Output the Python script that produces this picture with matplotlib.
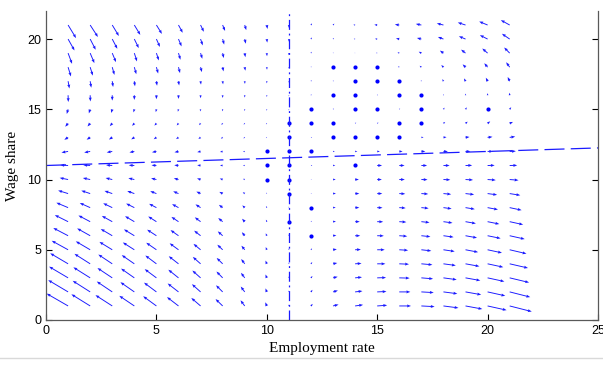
import numpy as np
import matplotlib
matplotlib.use("Agg")
import matplotlib.pyplot as plt
from matplotlib.lines import Line2D

plt.rcParams['font.family'] = ['Liberation Sans', 'DejaVu Sans']

# grid of the phase portrait
x_grid = list(range(1, 22))
y_grid = list(range(1, 22))

# vector components, one row per y (bottom row first)
U = [
    [-0.97,-0.85,-0.76,-0.68,-0.60,-0.52,-0.42,-0.32,-0.19,-0.07, 0.00, 0.08,0.25,0.36,0.45,0.53,0.60,0.68,0.76,0.86,1.00],
    [-0.90,-0.79,-0.70,-0.63,-0.56,-0.49,-0.39,-0.30,-0.18,-0.06, 0.00, 0.07,0.22,0.33,0.42,0.50,0.56,0.63,0.71,0.80,0.93],
    [-0.86,-0.76,-0.67,-0.60,-0.53,-0.46,-0.37,-0.28,-0.17,-0.06, 0.00, 0.07,0.21,0.31,0.40,0.47,0.53,0.60,0.67,0.76,0.88],
    [-0.81,-0.71,-0.63,-0.57,-0.50,-0.44,-0.35,-0.27,-0.16,-0.06, 0.00, 0.06,0.19,0.29,0.37,0.44,0.50,0.56,0.63,0.71,0.83],
    [-0.74,-0.65,-0.58,-0.52,-0.46,-0.40,-0.32,-0.24,-0.15,-0.05, 0.00, 0.05,0.17,0.26,0.34,0.40,0.45,0.51,0.57,0.65,0.76],
    [-0.67,-0.59,-0.52,-0.47,-0.42,-0.36,-0.29,-0.22,-0.13,-0.05, 0.00, 0.00,0.15,0.23,0.30,0.36,0.41,0.46,0.52,0.59,0.68],
    [-0.60,-0.53,-0.47,-0.42,-0.37,-0.32,-0.26,-0.20,-0.12,-0.04, 0.00, 0.04,0.13,0.21,0.27,0.32,0.37,0.41,0.47,0.53,0.61],
    [-0.53,-0.47,-0.41,-0.37,-0.33,-0.29,-0.23,-0.17,-0.11,-0.04, 0.00, 0.00,0.12,0.19,0.24,0.29,0.33,0.37,0.42,0.47,0.54],
    [-0.45,-0.40,-0.35,-0.32,-0.28,-0.24,-0.19,-0.15,-0.09,-0.03, 0.00, 0.03,0.13,0.19,0.23,0.27,0.31,0.35,0.39,0.43,0.48],
    [-0.38,-0.33,-0.30,-0.27,-0.24,-0.21,-0.16,-0.13,-0.08, 0.00, 0.00, 0.03,0.12,0.17,0.21,0.25,0.28,0.31,0.34,0.37,0.40],
    [-0.35,-0.31,-0.28,-0.25,-0.22,-0.19,-0.15,-0.12,-0.08, 0.00, 0.00, 0.06,0.10,0.00,0.22,0.24,0.26,0.28,0.30,0.32,0.34],
    [-0.30,-0.27,-0.25,-0.22,-0.20,-0.18,-0.15,-0.12,-0.08, 0.00, 0.00, 0.00,0.08,0.10,0.12,0.15,0.18,0.20,0.22,0.25,0.28],
    [-0.17,-0.16,-0.15,-0.14,-0.12,-0.11,-0.10,-0.08,-0.06,-0.04, 0.00, 0.05,0.00,0.00,0.00,0.00,0.10,0.14,0.18,0.22,0.25],
    [-0.13,-0.12,-0.11,-0.10,-0.09,-0.08,-0.07,-0.06,-0.05,-0.04, 0.00, 0.00,0.00,0.05,0.06,0.00,0.00,0.08,0.10,0.12,0.15],
    [-0.06,-0.06,-0.05,-0.04,-0.03,-0.03,-0.02,-0.02,-0.01,-0.01, 0.00, 0.00,0.04,0.00,0.00,0.04,0.00,0.05,0.06,0.00,0.07],
    [ 0.01, 0.01, 0.00, 0.00, 0.00, 0.00, 0.00, 0.00, 0.00, 0.00, 0.00, 0.02,0.00,0.00,0.03,0.00,0.00,0.02,0.01,0.00,-0.01],
    [ 0.06, 0.05, 0.04, 0.03, 0.03, 0.03, 0.02, 0.02, 0.01, 0.00, 0.00, 0.03,0.03,0.00,0.00,0.00,-0.02,-0.05,-0.07,-0.08,-0.09],
    [ 0.13, 0.12, 0.10, 0.09, 0.08, 0.07, 0.06, 0.04, 0.03, 0.01, 0.00, 0.02,0.00,0.00,0.00,-0.06,-0.08,-0.10,-0.13,-0.15,-0.16],
    [ 0.18, 0.19, 0.17, 0.12, 0.11, 0.09, 0.08, 0.05, 0.03, 0.01, 0.00, 0.03,0.02,-0.02,-0.05,-0.08,-0.12,-0.16,-0.20,-0.24,-0.25],
    [ 0.29, 0.25, 0.23, 0.20, 0.16, 0.14, 0.10, 0.07, 0.05, 0.02, 0.00, 0.04,0.04,-0.06,-0.10,-0.15,-0.20,-0.25,-0.30,-0.35,-0.35],
    [ 0.36, 0.35, 0.30, 0.27, 0.25, 0.19, 0.15, 0.11, 0.07, 0.03, 0.00, 0.05,0.06,-0.08,-0.13,-0.20,-0.25,-0.30,-0.35,-0.38,-0.40],
]
V = [
    [ 0.88, 0.83, 0.77, 0.72, 0.69, 0.63, 0.57, 0.49, 0.40, 0.26, 0.10, 0.15,0.10,0.08,0.05,0.00,-0.05,-0.14,-0.22,-0.30,-0.40],
    [ 0.84, 0.79, 0.74, 0.69, 0.66, 0.60, 0.55, 0.47, 0.38, 0.25, 0.10, 0.15,0.10,0.06,0.03,0.00,-0.05,-0.13,-0.20,-0.28,-0.37],
    [ 0.80, 0.75, 0.70, 0.66, 0.62, 0.58, 0.52, 0.45, 0.36, 0.24, 0.10, 0.13,0.08,0.05,0.02,-0.02,-0.07,-0.13,-0.19,-0.26,-0.33],
    [ 0.75, 0.71, 0.66, 0.62, 0.59, 0.54, 0.49, 0.42, 0.34, 0.23, 0.10, 0.12,0.06,0.03,0.00,-0.03,-0.07,-0.12,-0.18,-0.24,-0.30],
    [ 0.64, 0.60, 0.56, 0.52, 0.50, 0.46, 0.42, 0.36, 0.29, 0.19, 0.10, 0.10,0.04,0.02,0.00,-0.04,-0.08,-0.12,-0.17,-0.22,-0.28],
    [ 0.55, 0.52, 0.48, 0.45, 0.43, 0.40, 0.36, 0.31, 0.25, 0.17, 0.10, 0.00,0.03,0.00,-0.01,-0.04,-0.07,-0.10,-0.15,-0.19,-0.24],
    [ 0.47, 0.44, 0.41, 0.39, 0.37, 0.34, 0.31, 0.26, 0.21, 0.14, 0.00, 0.06,0.02,0.00,-0.01,-0.03,-0.06,-0.09,-0.13,-0.17,-0.21],
    [ 0.35, 0.33, 0.31, 0.29, 0.27, 0.25, 0.23, 0.20, 0.16, 0.11, 0.08, 0.00,0.01,0.00,-0.01,-0.03,-0.05,-0.08,-0.11,-0.14,-0.18],
    [ 0.22, 0.21, 0.19, 0.18, 0.17, 0.16, 0.14, 0.12, 0.10, 0.07, 0.00, 0.04,0.01,0.00,0.00,-0.02,-0.03,-0.05,-0.07,-0.09,-0.12],
    [ 0.12, 0.11, 0.11, 0.10, 0.09, 0.09, 0.08, 0.07, 0.05, 0.00, 0.00, 0.03,0.01,0.00,0.00,0.00,-0.01,-0.02,-0.03,-0.04,-0.05],
    [ 0.03, 0.03, 0.03, 0.02, 0.02, 0.02, 0.02, 0.01, 0.01, 0.00, 0.00, 0.01,0.01,0.00,0.00,0.00,0.00,0.00,0.01,0.01,0.01],
    [-0.08,-0.08,-0.07,-0.07,-0.06,-0.06,-0.05,-0.04,-0.03, 0.00, 0.00, 0.00,0.00,0.00,0.00,0.00,0.00,0.00,0.01,0.01,0.02],
    [-0.17,-0.16,-0.15,-0.14,-0.13,-0.12,-0.11,-0.09,-0.07,-0.05, 0.00, 0.02,0.00,0.00,0.00,0.00,0.01,0.02,0.03,0.04,0.06],
    [-0.24,-0.22,-0.20,-0.18,-0.16,-0.15,-0.13,-0.11,-0.09,-0.07, 0.00, 0.00,0.00,0.05,0.05,0.00,0.00,0.10,0.12,0.14,0.10],
    [-0.33,-0.29,-0.26,-0.22,-0.20,-0.17,-0.15,-0.14,-0.12,-0.10,-0.08, 0.00,0.06,0.00,0.00,0.06,0.00,0.12,0.14,0.00,0.15],
    [-0.48,-0.44,-0.38,-0.33,-0.28,-0.26,-0.21,-0.19,-0.16,-0.12,-0.08, 0.08,0.00,0.00,0.06,0.00,0.00,0.08,0.12,0.15,0.18],
    [-0.52,-0.46,-0.41,-0.36,-0.32,-0.30,-0.24,-0.22,-0.19,-0.15,-0.10, 0.08,0.06,0.00,0.00,0.00,0.08,0.15,0.20,0.25,0.30],
    [-0.66,-0.60,-0.55,-0.50,-0.45,-0.42,-0.35,-0.30,-0.25,-0.18,-0.10, 0.06,0.00,0.00,0.00,0.06,0.10,0.15,0.20,0.28,0.35],
    [-0.76,-0.71,-0.64,-0.59,-0.52,-0.47,-0.40,-0.35,-0.29,-0.22,-0.15, 0.10,0.05,0.03,0.03,0.06,0.10,0.18,0.25,0.33,0.40],
    [-0.81,-0.76,-0.69,-0.64,-0.56,-0.52,-0.45,-0.39,-0.33,-0.25,-0.18, 0.12,0.08,0.02,0.02,0.05,0.08,0.15,0.20,0.28,0.38],
    [-0.93,-0.85,-0.78,-0.70,-0.63,-0.55,-0.48,-0.42,-0.36,-0.28,-0.20, 0.12,0.10,0.02,0.02,0.04,0.08,0.12,0.18,0.25,0.35],
]

# nullclines
vline_x = [11, 11]
vline_y = [0, 22]
hline_x = [0, 25]
hline_y = [11.0, 12.25]

X, Y = np.meshgrid(x_grid, y_grid)
U = np.array(U)
V = np.array(V)

fig = plt.figure(figsize=(6.03, 3.65), dpi=100)
ax = fig.add_axes([0.0763, 0.1233, 0.9154, 0.8466])

ax.quiver(X, Y, U, V, angles='xy', scale_units='xy', scale=1, color='#1a1aff',
          width=0.0017, headwidth=3.2, headlength=4.2, headaxislength=3.8,
          minlength=0.3)
still = (U == 0) & (V == 0)
ax.plot(X[still], Y[still], 'o', color='b', ms=3.0, mew=0)

ax.plot(vline_x, vline_y, color='#1a1aff', lw=0.9, ls=(0, (8, 3, 1.5, 3)))
ax.plot(hline_x, hline_y, color='#1a1aff', lw=0.9, ls=(0, (16, 5)))

ax.set_xlim(0, 25)
ax.set_ylim(0, 22)
ax.set_xticks([0, 5, 10, 15, 20, 25])
ax.set_yticks([0, 5, 10, 15, 20])
ax.tick_params(direction='in', right=True, labelsize=9, length=4, width=0.8)
ax.spines['top'].set_visible(False)
for s in ['left', 'right', 'bottom']:
    ax.spines[s].set_color('0.35')
    ax.spines[s].set_linewidth(0.9)

ax.set_xlabel('Employment rate', fontfamily='Liberation Serif', fontsize=11, labelpad=4)
ax.set_ylabel('Wage share', fontfamily='Liberation Serif', fontsize=11, labelpad=6)

fig.add_artist(Line2D([0, 1], [0.018, 0.018], color='0.85', lw=1))

fig.savefig('out.png', dpi=100)
